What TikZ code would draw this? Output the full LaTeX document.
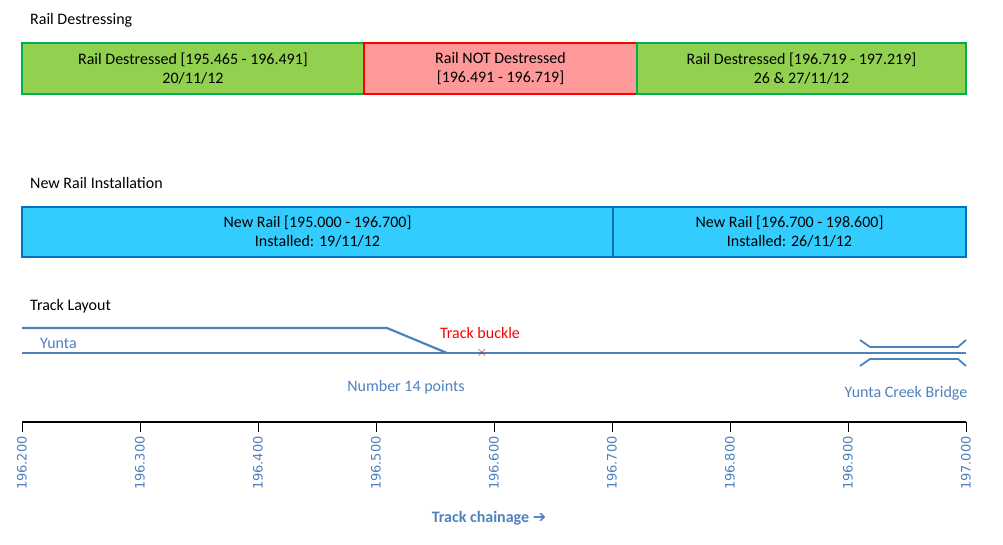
\documentclass[tikz,border=0pt]{standalone}
\usepackage{fontspec}
\setmainfont{Carlito}
\newfontfamily\axisfont{DejaVu Sans}
\definecolor{okfill}{HTML}{92D050}
\definecolor{okline}{HTML}{00B050}
\definecolor{badfill}{HTML}{FF9999}
\definecolor{newfill}{HTML}{33CCFF}
\definecolor{newline}{HTML}{0070C0}
\definecolor{trackblue}{HTML}{4F81BD}
\tikzset{
  band/.style={draw, line width=1.2pt, inner sep=0pt, align=center, font=\fontsize{16}{19}\selectfont},
  heading/.style={anchor=west, inner sep=0pt, font=\fontsize{16}{19}\selectfont},
  rail/.style={trackblue, line width=2.2pt},
  tlabel/.style={trackblue, inner sep=0pt, font=\fontsize{16}{19}\selectfont},
}
\begin{document}
\begin{tikzpicture}[x=1pt, y=-1pt]
        \useasboundingbox (0,0) rectangle (1003,544);
        % Rail destressing
        \node[heading] (hdes) at (30,20) {Rail Destressing};
        \node[band, fill=okfill, draw=okline, minimum width=342pt, minimum height=51pt] (des1) at (193,68.5) {Rail Destressed [195.465 - 196.491]\\20/11/12};
        \node[band, fill=badfill, draw=red, minimum width=273pt, minimum height=51pt] (des2) at (500.5,68.5) {Rail NOT Destressed\\{}[196.491 - 196.719]};
        \node[band, fill=okfill, draw=okline, minimum width=329pt, minimum height=51pt] (des3) at (801.5,68.5) {Rail Destressed [196.719 - 197.219]\\26 \& 27/11/12};

        % New rail installation
        \node[heading] (hnew) at (30,183) {New Rail Installation};
        \node[band, fill=newfill, draw=newline, minimum width=591pt, minimum height=50pt] (new1) at (317.5,232) {New Rail [195.000 - 196.700]\\Installed: 19/11/12};
        \node[band, fill=newfill, draw=newline, minimum width=353pt, minimum height=50pt] (new2) at (789.5,232) {New Rail [196.700 - 198.600]\\Installed: 26/11/12};

        % Track layout
        \node[heading] (htrk) at (30,306) {Track Layout};
        \coordinate (sA) at (22,328);
        \coordinate (sB) at (387,328);
        \coordinate (sC) at (447,353);
        \coordinate (mA) at (22,353);
        \coordinate (mB) at (966,353);
        \draw[rail] (sA) -- (sB) -- (sC);
        \draw[rail] (mA) -- (mB);
        \node[tlabel, anchor=west] (yunta) at (40,343) {Yunta};
        \node[red, inner sep=0pt, font=\fontsize{16}{19}\selectfont] (buckle) at (480,333) {Track buckle};
        \node[red, inner sep=0pt, font=\bfseries\fontsize{15}{15}\selectfont] (cross) at (482,353) {$\times$};
        \node[tlabel] (points) at (406,387) {Number 14 points};
        % bridge
        \draw[rail, line width=1.8pt] (860,340) -- (870,347) -- (958,347) -- (966,340);
        \draw[rail, line width=1.8pt] (860,366) -- (870,359) -- (958,359) -- (966,366);
        \node[tlabel] (bridge) at (906,393) {Yunta Creek Bridge};

        % Chainage axis
        \coordinate (ax0) at (22,422);
        \coordinate (ax1) at (966,422);
        \draw[line width=2.2pt] (ax0) -- (ax1);
        \foreach \i/\lab in {0/196.200,1/196.300,2/196.400,3/196.500,4/196.600,5/196.700,6/196.800,7/196.900,8/197.000} {
            \draw[line width=1pt] (22+118*\i,422) -- (22+118*\i,432);
            \node[trackblue, rotate=90, anchor=east, inner sep=0pt, font=\axisfont\fontsize{13}{15}\selectfont] at (22+118*\i,436) {\lab};
        }
        \node[trackblue, inner sep=0pt, font=\bfseries\fontsize{16}{19}\selectfont] (chain) at (489,518) {Track chainage {\axisfont➔}};
    \end{tikzpicture}
\end{document}
